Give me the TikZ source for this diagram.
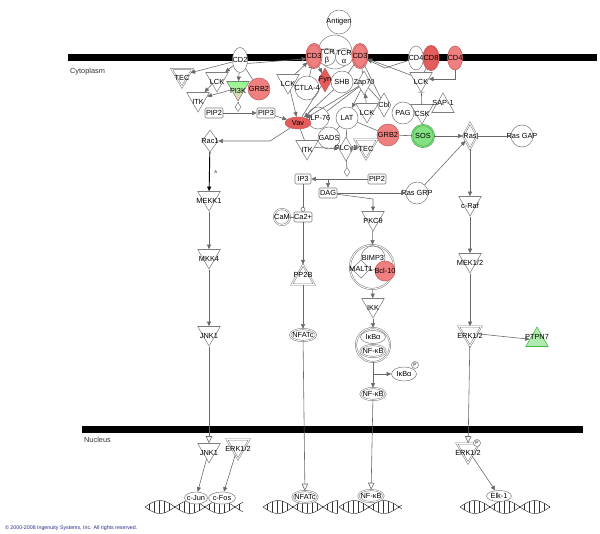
\documentclass[tikz,border=0pt]{standalone}
\usepackage{fontspec}
\setmainfont{Liberation Sans}
\usetikzlibrary{arrows.meta,shapes.geometric}

\definecolor{nodegray}{RGB}{125,125,125}
\definecolor{edgegray}{RGB}{105,105,105}
\definecolor{hitred}{RGB}{240,128,128}
\definecolor{hitdark}{RGB}{228,92,92}
\definecolor{redline}{RGB}{195,90,90}
\definecolor{hitgreen}{RGB}{130,225,130}
\definecolor{lightgreen}{RGB}{175,235,175}
\definecolor{greenline}{RGB}{70,160,70}
\definecolor{copyblue}{RGB}{40,40,140}

\newcommand{\lab}{\fontsize{6.3}{6.6}\selectfont}
% DNA helix: start x, length, centre y
\newcommand{\helix}[3]{%
  \draw[dna] plot[domain=0:#2, samples=50, smooth] ({#1+\x},{#3+6.5*sin(\x*6)});
  \draw[dna] plot[domain=0:#2, samples=50, smooth] ({#1+\x},{#3-6.5*sin(\x*6)});
  \foreach \rr in {4,9,...,#2} \draw[dna] ({#1+\rr},{#3+6.5*sin(\rr*6)}) -- ({#1+\rr},{#3-6.5*sin(\rr*6)});
}

\begin{document}
\begin{tikzpicture}[x=0.03cm, y=-0.03cm,
    every node/.style={font=\lab},
    every label/.style={font=\lab, inner sep=0pt},
    mol/.style={draw=nodegray, fill=white, inner sep=0pt, line width=0.45pt},
    circ/.style={mol, circle, minimum size=#1*0.03cm},
    oval/.style 2 args={mol, ellipse, minimum width=#1*0.03cm, minimum height=#2*0.03cm},
    kinase/.style={mol, regular polygon, regular polygon sides=3, shape border rotate=180, minimum size=#1*0.03cm},
    kinase/.default=26,
    phosph/.style={mol, regular polygon, regular polygon sides=3, minimum size=#1*0.03cm},
    phosph/.default=26,
    dmd/.style 2 args={mol, diamond, minimum width=#1*0.03cm, minimum height=#2*0.03cm},
    chem/.style={mol, rectangle, rounded corners=1pt, minimum width=#1*0.03cm, minimum height=10*0.03cm},
    chem/.default=18,
    grp/.style={double=white, double distance=0.7pt},
    hit/.style={fill=hitred, draw=redline},
    lab/.style={label=center:#1},
    klab/.style={label={[yshift=-2.5pt]center:#1}},
    plab/.style={label={[yshift=2.5pt]center:#1}},
    flow/.style={draw=edgegray, line width=0.5pt, -{Triangle[length=4pt, width=3.5pt]}},
    link/.style={draw=edgegray, line width=0.5pt},
    block/.style={draw=edgegray, line width=0.5pt, -{Bar[width=5pt]}},
    transl/.style={draw=edgegray, line width=0.5pt, -{Triangle[open, length=6pt, width=5.5pt]}},
    dna/.style={draw=black!80, line width=0.4pt}
]
\useasboundingbox (0,0) rectangle (600,533);

% membranes
\fill (68,54) rectangle (597,61);
\fill (82,426) rectangle (583,433);
\node[anchor=west, text=black!80] (cyto) at (66,72) {Cytoplasm};
\node[anchor=west, text=black!80] (nucl) at (80,440) {Nucleus};

% receptors
\node[circ=24, lab=Antigen] (antigen) at (339,22) {};
\node[circ=34] (tcr) at (335,52) {};
\node[circ=17, label={[align=center]center:TCR\\β}] (tcrb) at (327,57) {};
\node[circ=17, label={[align=center]center:TCR\\α}] (tcra) at (344,57) {};
\node[oval={15}{24}, hit, grp, double=hitred, lab=CD3] (cd3a) at (314,56) {};
\node[oval={15}{24}, hit, grp, double=hitred, lab=CD3] (cd3b) at (360,56) {};
\node[oval={15}{25}, lab=CD2] (cd2) at (240,60) {};
\node[oval={15}{24}, lab=CD4] (cd4a) at (416,58) {};
\node[oval={15}{24}, hit, fill=hitdark, grp, double=hitdark, lab=CD8] (cd8) at (431,58) {};
\node[oval={15}{24}, hit, lab=CD4] (cd4b) at (455,58) {};

% left cluster
\node[kinase=24, grp, klab=TEC] (teca) at (182,75) {};
\node[kinase, klab=LCK] (lcka) at (217,79) {};
\node[kinase, top color=green!45, bottom color=red!20, klab=PI3K] (pi3k) at (238,88) {};
\node[circ=22, hit, lab=GRB2] (grb2a) at (259,89) {};
\node[kinase, klab=ITK] (itka) at (198,99) {};
\node[dmd={6}{9}] (sda) at (238,107) {};
\node[chem, lab=PIP2] (pip2a) at (214,113) {};
\node[chem, lab=PIP3] (pip3a) at (266,113) {};
\node[dmd={16}{22}, lab=Rac1] (rac1) at (210,141) {};

% TCR proximal
\node[kinase, klab=LCK] (lckb) at (288,81) {};
\node[circ=24, lab=CTLA-4] (ctla4) at (307,88) {};
\node[dmd={14}{24}, hit, fill=hitdark, lab=Fyn] (fyn) at (325,80) {};
\node[circ=22, lab=SHB] (shb) at (342,82) {};
\node[dmd={14}{24}, lab=Zap70] (zap70) at (364,83) {};
\node[circ=22, lab=SLP-76] (slp76) at (318,118) {};
\node[oval={26}{12}, hit, fill=hitdark, lab=Vav] (vav) at (298,123) {};
\node[circ=22, lab=LAT] (lat) at (347,118) {};
\node[circ=22, lab=GADS] (gads) at (329,138) {};
\node[kinase, klab=LCK] (lckc) at (367,110) {};
\node[dmd={14}{24}, lab=Cbl] (cbl) at (384,105) {};
\node[circ=22, lab=PAG] (pag) at (403,113) {};
\node[kinase, klab=CSK] (csk) at (422,111) {};
\node[phosph, plab=SAP-1] (sap1) at (443,106) {};
\node[kinase, klab=LCK] (lckd) at (421,79) {};

% Ras branch
\node[circ=22, hit, lab=GRB2] (grb2b) at (388,135) {};
\node[circ=22, fill=hitgreen, draw=greenline, double=hitgreen, double distance=0.7pt, lab=SOS] (sos) at (423,136) {};
\node[dmd={14}{26}, grp, lab=Ras] (ras) at (470,136) {};
\node[circ=22, lab=Ras GAP] (rasgap) at (522,136) {};
\node[kinase, klab=c-Raf] (craf) at (470,203) {};
\node[kinase, klab=MEK1/2] (mek12) at (470,260) {};
\node[kinase, grp, klab=ERK1/2] (erka) at (470,333) {};
\node[phosph, fill=lightgreen, draw=green!45!gray, plab=PTPN7] (ptpn7) at (537,340) {};

% PLC branch
\node[kinase, klab=ITK] (itkb) at (307,147) {};
\node[dmd={14}{24}, lab=PLCγ1] (plcg) at (346,149) {};
\node[kinase, grp, klab=TEC] (tecb) at (366,146) {};
\node[dmd={6}{9}] (sdb) at (347,172) {};
\node[chem=16, lab=IP3] (ip3) at (303,179) {};
\node[chem, lab=PIP2] (pip2b) at (377,179) {};
\node[chem, lab=DAG] (dag) at (328,193) {};
\node[circ=22, lab=Ras GRP] (rasgrp) at (417,193) {};
\node[circ=16, grp, lab=CaM] (cam) at (282,217) {};
\node[chem, lab=Ca2+] (ca) at (303,217) {};
\node[phosph, grp, plab=PP2B] (pp2b) at (303,278) {};
\node[oval={26}{12}, grp, lab=NFATc] (nfata) at (303,335) {};

% NF-kB branch
\node[kinase, klab=PKCθ] (pkct) at (373,218) {};
\node[circ=44, grp] (cbm) at (372,267) {};
\node[circ=24, lab=BIMP3] (bimp3) at (373,258) {};
\node[dmd={18}{18}, lab=MALT1] (malt1) at (361,269) {};
\node[circ=20, hit, lab=Bcl-10] (bcl10) at (385,271) {};
\node[kinase, klab=IKK] (ikk) at (373,305) {};
\node[circ=34, grp] (nfcx) at (373,345) {};
\node[oval={25}{13}, lab=IκBα] (ikba) at (373,337) {};
\node[oval={25}{12}, grp, lab=NF-κB] (nfkba) at (373,351) {};
\node[oval={25}{14}, lab=IκBα] (ikbap) at (404,374) {};
\node[circ=7, label={[font=\fontsize{4}{4}\selectfont]center:P}] (pa) at (415,365) {};
\node[oval={25}{12}, grp, lab=NF-κB] (nfkbb) at (373,394) {};

% JNK branch
\node[kinase, klab=MEKK1] (mekk1) at (209,198) {};
\node[kinase, klab=MKK4] (mkk4) at (209,256) {};
\node[kinase, klab=JNK1] (jnk1) at (209,333) {};

% nucleus
\helix{145}{98}{507}
\helix{263}{75}{507}
\helix{339}{63}{507}
\helix{460}{90}{507}
\node[kinase, klab=JNK1] (jnk1n) at (209,450) {};
\node[kinase, grp, klab=ERK1/2] (erkn1) at (238,446) {};
\node[kinase, grp, klab=ERK1/2] (erkn2) at (468,450) {};
\node[circ=7, label={[font=\fontsize{4}{4}\selectfont]center:P}] (pb) at (477,443) {};
\node[oval={23}{12}, lab=c-Jun] (cjun) at (196,498) {};
\node[oval={27}{12}, lab=c-Fos] (cfos) at (222,498) {};
\node[oval={25}{12}, grp, lab=NFATc] (nfatn) at (305,497) {};
\node[oval={25}{12}, grp, lab=NF-κB] (nfkbn) at (371,496) {};
\node[oval={25}{11}, lab=Elk-1] (elk1) at (499,496) {};

\node[anchor=west, text=copyblue, font=\fontsize{4.5}{5}\selectfont] (copy) at (1,528) {© 2000-2008 Ingenuity Systems, Inc. All rights reserved.};

% connectors, left
\draw[flow] (cd2) -- (teca);
\draw[flow] (cd2) -- (lcka);
\draw[flow] (cd2) -- (pi3k);
\draw[link] (cd2) -- (grb2a);
\draw[flow] (cd2.-25) -- (cd3a.-160);
\draw[flow] (lcka) -- (itka);
\draw[flow] (pi3k) -- (itka);
\draw[link] (pi3k) -- (sda);
\draw[flow] (pip2a) -- (pip3a);
\draw[flow] (pip3a) -- (vav);
\coordinate (vbend) at (270,141);
\draw[flow] (vav) -- (vbend) -- (rac1);
\draw[flow, draw=black, line width=0.8pt] (rac1) -- node[right=0.5pt, pos=0.5, font=\fontsize{3.5}{4}\selectfont] {A} (mekk1);
\draw[flow] (mekk1) -- (mkk4);
\draw[flow] (mkk4) -- (jnk1);
\draw[transl] (jnk1) -- (jnk1n);

% connectors, TCR complex
\draw[flow] (lckb) -- (cd3a);
\draw[block] (ctla4) -- (cd3a);
\draw[flow] (cd3a) -- (fyn);
\draw[link] (fyn) -- (vav);
\draw[flow] (lckb) -- (vav);
\draw[flow] (shb) -- (vav);
\draw[flow] (zap70) -- (vav);
\draw[link] (zap70) -- (slp76);
\draw[flow] (zap70) -- (lat);
\draw[flow] (lckc) -- (zap70);
\draw[link] (cd3b) -- (zap70);
\draw[link] (cd3b) -- (shb);
\draw[link] (slp76) -- (gads);
\draw[link] (lat) -- (gads);
\draw[link] (lat) -- (plcg);
\draw[link] (lat) -- (grb2b);
\draw[link] (vav) -- (itkb);
\draw[flow] (itkb) -- (plcg);
\draw[flow] (tecb) -- (plcg);
\draw[link] (cbl) -- (zap70);
\draw[link] (cbl) -- (cd3b);
\draw[link] (pag) -- (csk);
\draw[block] (csk) -- (lckd);
\draw[flow] (lckd) -- (cd3b);
\coordinate (cd4bend) at (385,68);
\draw[flow] (cd4a) -- (cd4bend) -- (cd3b);
\draw[flow] (cd4b) |- (lckd);
\draw[link] (cd8) -- (lckd);

% connectors, Ras
\draw[link] (grb2b) -- (sos);
\draw[flow] (sos) -- (ras);
\draw[block] (rasgap) -- (ras);
\draw[flow] (rasgrp) -- (ras);
\draw[flow] (ras) -- (craf);
\draw[flow] (craf) -- (mek12);
\draw[flow] (mek12) -- (erka);
\draw[flow] (erka) -- (ptpn7);
\draw[transl] (erka) -- (erkn2);

% connectors, PLC
\draw[link] (plcg) -- (sdb);
\draw[flow] (pip2b) -- (ip3);
\coordinate (dsplit) at (328,179);
\draw[flow] (dsplit) -- (dag);
\draw[flow] (dag) -- (rasgrp);
\coordinate (pbend) at (373,199);
\draw[flow] (dag) -- (pbend) -- (pkct);
\draw[draw=edgegray, line width=0.5pt, -{Circle[open, length=4pt]}] (ip3) -- (ca);
\draw[link] (cam) -- (ca);
\draw[flow] (ca) -- (pp2b);
\draw[flow] (pp2b) -- (nfata);
\draw[transl] (nfata) -- (nfatn);
\draw[flow] (pkct) -- (cbm);
\draw[flow] (cbm) -- (ikk);
\draw[flow] (ikk) -- (nfcx);
\draw[flow] (nfcx) -- (nfkbb);
\coordinate (isplit) at (373,374);
\draw[flow] (isplit) -- (ikbap);
\draw[transl] (nfkbb) -- (nfkbn);

% connectors, nucleus
\draw[flow] (jnk1n) -- (cjun);
\draw[flow] (erkn1) -- (cfos);
\draw[flow] (erkn2) -- (elk1);
\end{tikzpicture}
\end{document}
